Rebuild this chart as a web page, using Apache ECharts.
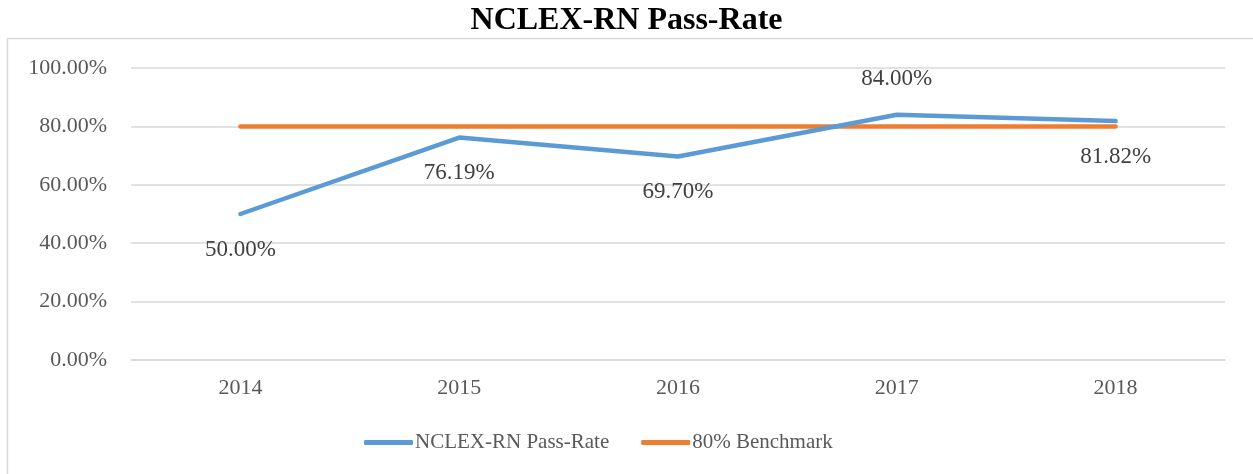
<!DOCTYPE html>
<html>
<head>
    <meta charset="utf-8"/>
    <title>NCLEX-RN Pass-Rate</title>
    <script src="https://cdn.jsdelivr.net/npm/echarts@6/dist/echarts.min.js"></script>
</head>
<body style="margin:0">
<div id="main" style="width: 1253px;height:474px;"></div>
<script type="text/javascript">
    var years = ['2014', '2015', '2016', '2017', '2018'];
    var passRate = [50.00, 76.19, 69.70, 84.00, 81.82];
    var benchmark = [80, 80, 80, 80, 80];
    // label above or below each point, as in the original
    var labelPos = ['bottom', 'bottom', 'bottom', 'top', 'bottom'];

    var font = '"Liberation Serif", "Times New Roman", serif';
    var myChart = echarts.init(document.getElementById('main'));

    var passData = passRate.map(function (v, i) {
        return { value: v, label: { position: labelPos[i] } };
    });

    myChart.setOption({
        animation: false,
        title: {
            text: 'NCLEX-RN Pass-Rate',
            left: 'center',
            top: 0,
            textStyle: { fontFamily: font, fontSize: 32, fontWeight: 'bold', color: '#000' }
        },
        graphic: [{
            type: 'rect',
            shape: { x: 7.5, y: 38.5, width: 1300, height: 500 },
            style: { fill: 'none', stroke: '#d9d9d9', lineWidth: 1.5 },
            silent: true
        }],
        legend: {
            bottom: 16,
            left: 359,
            icon: 'roundRect',
            itemWidth: 49,
            itemHeight: 5,
            itemGap: 32,
            textStyle: { fontFamily: font, fontSize: 21, color: '#595959', padding: [0, 0, 0, -3] },
            data: ['NCLEX-RN Pass-Rate', '80% Benchmark']
        },
        grid: { left: 131, right: 28, top: 68, bottom: 114 },
        xAxis: {
            type: 'category',
            data: years,
            axisLine: { lineStyle: { color: '#d9d9d9', width: 1.5 } },
            axisTick: { show: false },
            axisLabel: { fontFamily: font, fontSize: 22, color: '#595959', margin: 17 }
        },
        yAxis: {
            type: 'value',
            min: 0,
            max: 100,
            interval: 20,
            axisLine: { show: false },
            axisTick: { show: false },
            splitLine: { lineStyle: { color: '#d9d9d9', width: 1.5 } },
            axisLabel: {
                fontFamily: font, fontSize: 22, color: '#595959', margin: 24,
                formatter: function (v) { return v.toFixed(2) + '%'; }
            }
        },
        series: [
            {
                name: 'NCLEX-RN Pass-Rate',
                type: 'line',
                data: passData,
                symbol: 'circle',
                symbolSize: 0.1,
                showSymbol: true,
                z: 3,
                lineStyle: { color: '#5b9bd5', width: 4.5, cap: 'round', join: 'round' },
                itemStyle: { color: '#5b9bd5' },
                label: {
                    show: true,
                    distance: 24,
                    fontFamily: font, fontSize: 23, color: '#404040',
                    formatter: function (p) { return p.value.toFixed(2) + '%'; }
                }
            },
            {
                name: '80% Benchmark',
                type: 'line',
                data: benchmark,
                symbol: 'none',
                z: 2,
                lineStyle: { color: '#ed7d31', width: 4.5, cap: 'round' },
                itemStyle: { color: '#ed7d31' }
            }
        ]
    });
</script>
</body>
</html>
